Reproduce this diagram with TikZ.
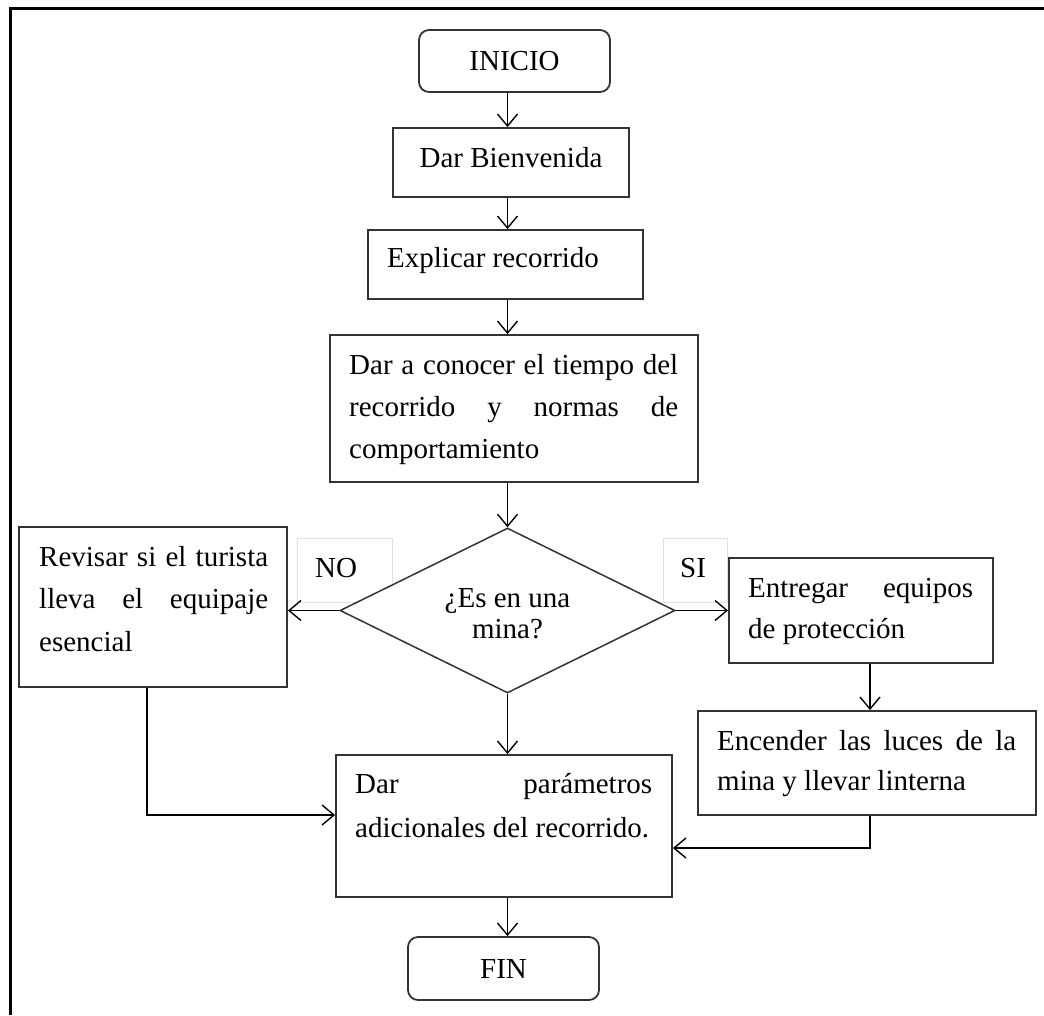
\documentclass[tikz,border=0pt]{standalone}
\usepackage{fontspec}
\setmainfont{Liberation Serif}
\usetikzlibrary{arrows.meta,shapes.geometric}
% one justified line of a given width
\newcommand{\justln}[2]{\makebox[#1][s]{#2}}

\begin{document}
\begin{tikzpicture}[x=1pt,y=-1pt,
  box/.style={rectangle, draw=black!80, line width=1.8pt, fill=white, inner sep=0pt},
  term/.style={box, rounded corners=10pt, font=\fontsize{29}{34}\selectfont},
  lbl/.style={rectangle, draw=black!12, line width=1pt, fill=white, inner sep=0pt},
  txt/.style={inner sep=0pt, font=\fontsize{29}{42}\selectfont},
  conn/.style={line width=1.4pt, -{Straight Barb[length=12pt,width=20pt,line width=1.4pt]}},
  ]
\useasboundingbox (0,0) rectangle (1044,1015);

% outer frame (top and left sides)
\draw[line width=3pt] (10,1015) -- (10,8) -- (1044,8);

% vertical guide lines for the connectors
\coordinate (spine) at (507.5,0);
\coordinate (lspine) at (147,0);
\coordinate (rspine) at (870,0);
\coordinate (lin) at (0,815);
\coordinate (rin) at (0,848);

% terminals and process boxes
\node[term, minimum width=191pt, minimum height=62pt] (inicio) at (514.5,61) {INICIO};
\node[box, minimum width=236pt, minimum height=69pt] (bienv) at (511,162.5) {};
\node[box, minimum width=275pt, minimum height=69pt] (explicar) at (505.5,264.5) {};
\node[box, minimum width=368pt, minimum height=147pt] (conocer) at (514,408.5) {};
\node[box, minimum width=268pt, minimum height=160pt] (revisar) at (153,607) {};
\node[box, minimum width=264pt, minimum height=105pt] (entregar) at (861,610.5) {};
\node[box, minimum width=338pt, minimum height=104pt] (encender) at (867,763) {};
\node[box, minimum width=336pt, minimum height=142pt] (param) at (504,826) {};
\node[term, minimum width=191pt, minimum height=63pt] (fin) at (503.5,968.5) {FIN};

% branch labels, partly covered by the decision
\node[lbl, minimum width=95pt, minimum height=64pt] (nobox) at (344.5,570) {};
\node[lbl, minimum width=64pt, minimum height=64pt] (sibox) at (695,570) {};
\node[txt, anchor=base west] (notxt) at (315,577) {NO};
\node[txt, anchor=base west] (sitxt) at (680,577) {SI};

% decision
\node[diamond, draw=black!80, line width=1.5pt, fill=white, inner sep=0pt,
      minimum width=335pt, minimum height=165pt] (mina) at (507.5,610.5) {};
\node[inner sep=0pt, anchor=base] (minatxt) at (507.5,607)
  {\parbox[t]{200pt}{\centering\fontsize{29}{31}\selectfont ¿Es en una\\ mina?}};

% box texts
\node[txt, anchor=base] (tbienv) at (511,167) {Dar Bienvenida};
\node[txt, anchor=base west] (texplicar) at (387,267) {Explicar recorrido};
\node[txt, anchor=base west] (tconocer) at (349,374)
  {\parbox[t]{329pt}{\fontsize{29}{42}\selectfont
   \justln{329pt}{Dar a conocer el tiempo del}\\
   \justln{329pt}{recorrido y normas de}\\
   comportamiento}};
\node[txt, anchor=base west] (trevisar) at (39,566)
  {\parbox[t]{229pt}{\fontsize{29}{42.5}\selectfont
   \justln{229pt}{Revisar si el turista}\\
   \justln{229pt}{lleva el equipaje}\\
   esencial}};
\node[txt, anchor=base west] (tentregar) at (748,597)
  {\parbox[t]{225pt}{\fontsize{29}{41}\selectfont
   \justln{225pt}{Entregar equipos}\\
   de protección}};
\node[txt, anchor=base west] (tencender) at (717,750)
  {\parbox[t]{299pt}{\fontsize{29}{40}\selectfont
   \justln{299pt}{Encender las luces de la}\\
   mina y llevar linterna}};
\node[txt, anchor=base west] (tparam) at (355,793)
  {\parbox[t]{297pt}{\fontsize{29}{44}\selectfont
   \justln{297pt}{Dar parámetros}\\
   adicionales del recorrido.}};

% connectors
\draw[conn] (inicio.south -| spine) -- (bienv.north -| spine);
\draw[conn] (bienv.south -| spine) -- (explicar.north -| spine);
\draw[conn] (explicar.south -| spine) -- (conocer.north -| spine);
\draw[conn] (conocer.south -| spine) -- (mina.north);
\draw[conn] (mina.west) -- (mina.west -| revisar.east);
\draw[conn] (mina.east) -- (mina.east -| entregar.west);
\draw[conn] (mina.south) -- (param.north -| mina.south);
\draw[conn] (entregar.south -| rspine) -- (encender.north -| rspine);
\draw[conn] (revisar.south -| lspine) |- (param.west |- lin);
\draw[conn] (encender.south -| rspine) |- (param.east |- rin);
\draw[conn] (param.south -| spine) -- (fin.north -| spine);
\end{tikzpicture}
\end{document}
